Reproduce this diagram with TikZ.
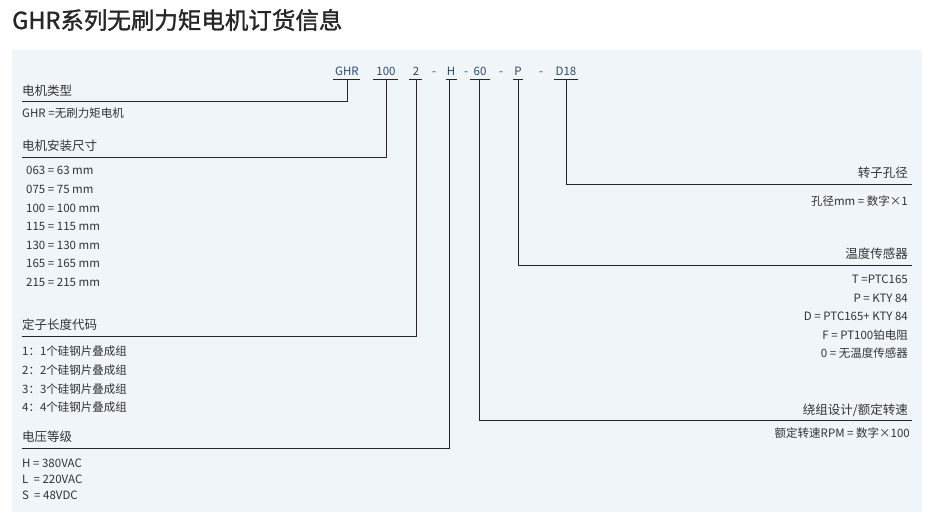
\documentclass[tikz,border=0pt]{standalone}
\usepackage{fontspec}
\setmainfont{Noto Sans CJK SC}
\newfontfamily\titlefont{Noto Sans CJK SC}[FakeBold=1.3]
\usetikzlibrary{positioning}
\definecolor{panelbg}{HTML}{EFF5F9}
\definecolor{codeblue}{HTML}{2E4A6B}
\definecolor{txt}{HTML}{333333}
\begin{document}
\begin{tikzpicture}[x=1pt, y=-1pt, font=\fontsize{11.5}{13}\selectfont, text=txt,
    code/.style = {text=codeblue, inner sep=1pt, anchor=base, font=\fontsize{11.5}{13}\selectfont},
    lead/.style = {line width=0.8pt, draw=black!85},
    head/.style = {anchor=base west, inner sep=0pt, font=\fontsize{12.5}{14}\selectfont},
    item/.style = {anchor=base west, inner sep=0pt},
    headr/.style = {anchor=base east, inner sep=0pt, font=\fontsize{12.5}{14}\selectfont},
    itemr/.style = {anchor=base east, inner sep=0pt}]
  \useasboundingbox (0,0) rectangle (935,521);
  \fill[panelbg] (12,50) rectangle (922,512);
  \node[anchor=base west, inner sep=0pt, font=\titlefont\fontsize{23.5}{27}\selectfont, text=black!85] (title) at (12,29) {GHR系列无刷力矩电机订货信息};
  % code row
  \node[code] (cGHR) at (347,76) {GHR};
  \node[code] (c100) at (386,76) {100};
  \node[code] (c2) at (416,76) {2};
  \node[code] at (434,76) {-};
  \node[code] (cH) at (451,76) {H};
  \node[code] at (466,76) {-};
  \node[code] (c60) at (480,76) {60};
  \node[code] at (501,76) {-};
  \node[code] (cP) at (518,76) {P};
  \node[code] at (541,76) {-};
  \node[code] (cD) at (566,76) {D18};
  \foreach \c/\a/\b in {GHR/333/360, 100/373/398, 2/409/422, H/446/457, 60/470/490, P/513/523, D/554/578}
    \draw[lead] (\a,79.5) -- (\b,79.5);
  % left side
  \coordinate (lGHR) at (22,101);
  \coordinate (l100) at (22,157);
  \coordinate (l2) at (22,336);
  \coordinate (lH) at (22,448);
  \draw[lead] (347,79.5) |- (lGHR);
  \draw[lead] (386,79.5) |- (l100);
  \draw[lead] (416,79.5) |- (l2);
  \draw[lead] (449,79.5) |- (lH);
  % right side
  \coordinate (rD) at (912,184);
  \coordinate (rP) at (912,265);
  \coordinate (r60) at (912,420);
  \draw[lead] (566,79.5) |- (rD);
  \draw[lead] (518,79.5) |- (rP);
  \draw[lead] (479,79.5) |- (r60);
  % labels left
  \node[head] (hType) at (22,96) {电机类型};
  \node[item] at (22,118) {GHR =无刷力矩电机};
  \node[head] (hSize) at (22,151) {电机安装尺寸};
  \foreach \t [count=\i] in {063 = 63 mm, 075 = 75 mm, 100 = 100 mm, 115 = 115 mm, 130 = 130 mm, 165 = 165 mm, 215 = 215 mm}
    \node[item] at (26,175+18.6*\i-18.6) {\t};
  \node[head] (hLen) at (22,330) {定子长度代码};
  \foreach \t [count=\i] in {1：1个硅钢片叠成组, 2：2个硅钢片叠成组, 3：3个硅钢片叠成组, 4：4个硅钢片叠成组}
    \node[item] at (22,356+18.6*\i-18.6) {\t};
  \node[head] (hVolt) at (22,442) {电压等级};
  \node[item] at (22,467) {H = 380VAC};
  \node[item] at (22,483) {L \ = 220VAC};
  \node[item] at (22,499) {S \ = 48VDC};
  % labels right
  \node[headr] (hBore) at (908,178) {转子孔径};
  \node[itemr] at (908,206) {孔径mm = 数字×1};
  \node[headr] (hTemp) at (908,259) {温度传感器};
  \node[itemr] at (908,284) {T =PTC165};
  \node[itemr] at (908,303) {P = KTY 84};
  \node[itemr] at (908,321) {D = PTC165+ KTY 84};
  \node[itemr] at (908,340) {F = PT100铂电阻};
  \node[itemr] at (908,358) {0 = 无温度传感器};
  \node[headr] (hWind) at (908,414) {绕组设计/额定转速};
  \node[itemr] at (910,437) {额定转速RPM = 数字×100};
\end{tikzpicture}
\end{document}
